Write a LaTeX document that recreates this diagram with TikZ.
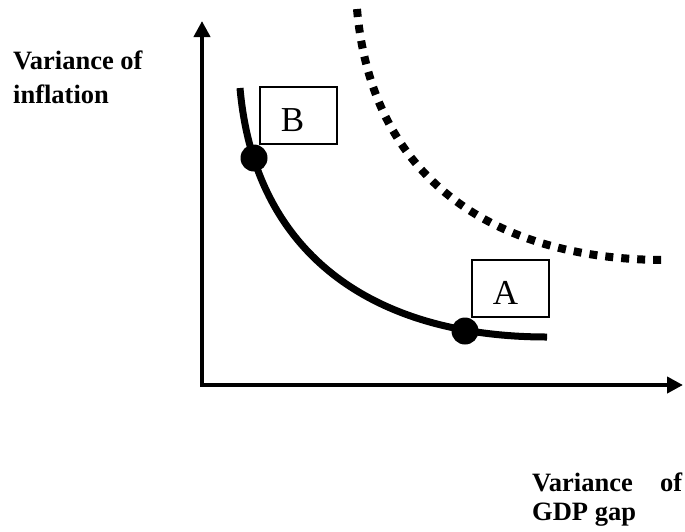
\documentclass[tikz,border=0pt]{standalone}
\usepackage{fontspec}
\setmainfont{Liberation Serif}
\usetikzlibrary{arrows.meta}
\begin{document}
\begin{tikzpicture}[x=1pt,y=-1pt,
  axis/.style={line width=4pt,line join=miter,{Triangle[length=16pt,width=16pt]}-{Triangle[length=16pt,width=16pt]}},
  curve/.style={line width=7pt},
  dotcurve/.style={line width=8pt,dash pattern=on 8pt off 8pt},
  pt/.style={circle,fill=black,minimum size=27pt,inner sep=0pt},
  lbox/.style={draw,line width=1.2pt,minimum width=77pt,minimum height=57pt,inner sep=0pt},
  ltext/.style={font=\fontsize{35}{42}\selectfont,inner sep=0pt,anchor=base},
  axlabel/.style={font=\fontsize{26.5}{30}\selectfont\bfseries,inner sep=0pt,anchor=base west}]
\useasboundingbox (0,0) rectangle (685,531);
% axes
\coordinate (O) at (202,385);
\coordinate (ytip) at (202,21);
\coordinate (xtip) at (683,385);
\draw[axis] (ytip) -- (O) -- (xtip);
% curves
\draw[curve] (240,88) .. controls (255,260) and (380,337) .. (547,337);
\draw[dotcurve] (357,9) .. controls (372,182) and (497,260) .. (666,260);
% points
\node[pt] (dotB) at (254,158) {};
\node[pt] (dotA) at (465,331) {};
% boxes
\node[lbox] (boxB) at (298.5,115.5) {};
\node[ltext] (labB) at ([xshift=-6pt,yshift=-15.5pt]boxB.center) {B};
\node[lbox] (boxA) at (510.5,288.5) {};
\node[ltext] (labA) at ([xshift=-5pt,yshift=-16pt]boxA.center) {A};
% axis labels
\node[axlabel] (yl1) at (13,69) {Variance of};
\node[axlabel] (yl2) at (13,103) {inflation};
\node[axlabel] (xl1) at (532,491) {\hbox to 150pt{Variance\hfill of}};
\node[axlabel] (xl2) at (532,520) {GDP gap};
\end{tikzpicture}
\end{document}
